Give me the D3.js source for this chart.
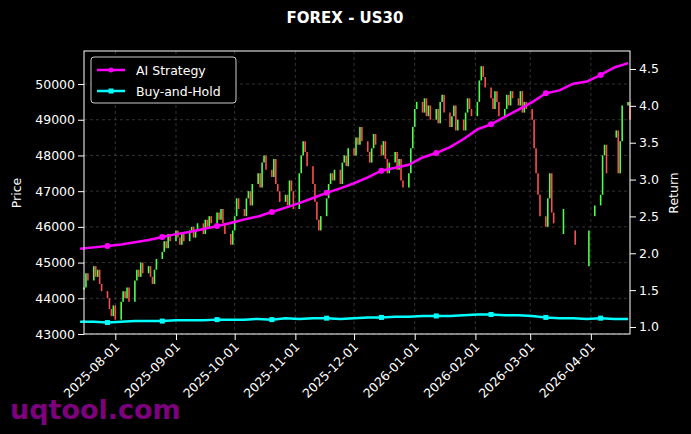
<!DOCTYPE html>
<html><head><meta charset="utf-8">
<script src="https://cdn.jsdelivr.net/npm/d3@7"></script>
<style>body{margin:0;background:#000}svg{display:block;font-family:"DejaVu Sans",sans-serif}</style>
</head><body><svg id="c" width="691" height="434"></svg>
<script>
// daily closes, business days from 2025-07-16 (null = no bar)
var closes = [
 44300,44700,44500,
 44900,44600,44800,44400,44200, 44000,43700,43500,43800,43400,
 43900,44200,44000,44300,43900, 44500,44800,44600,45000,44700,
 44900,44600,44400,44800,45100, 45300,45600,45400,45800,45600,
 45900,45700,45500,45800,45600, 45900,46000,45700,45900,46100,
 45800,46200,46000,46300,46100, 46400,46200,46500,46100,45800,
 45500,45900,46300,46800,46500, 46300,46800,47000,46600,47200,
 47500,47100,47800,48000,47600, 47400,47900,47200,47000,46700,
 46900,46600,47300,47000,46500, 47500,48000,48400,48100,47700,
 47200,46700,46200,45900,46300, 46800,47200,47500,47300,47600,
 47200,47800,48000,47700,48200, 48000,48500,48300,48800,48400,
 48100,47800,48200,48600,48300, 48000,48400,47900,47500,47800,
 48100,47600,47900,47300,47100, 47500,48200,48800,49300,49500,
 49200,49600,49100,49400,49000, 49300,48900,49500,49700,49200,
 48800,49100,49400,48700,49000, 48700,49200,49600,49300,49100,
 49500,50100,50500,50200,49900, 49600,49300,49800,49500,49100,
 49300,49700,49400,49800,49600, 49400,49800,49200,49500,49300,
 49000,48200,47500,46900,46300, 46000,46800,47500,46400,46100,
 null,45800,46500,null,null, 45900,45500,null,45000,null,
 44900,45900,null,46300,46600, 46900,48000,48300,47500,null,
 48500,48700,47500,48400,49400, 49500,49000
];
// weekly returns from 2025-07-14
var aiReturn = [2.06,2.08,2.10,2.12,2.15,2.18,2.22,2.26,2.29,2.33,2.37,2.41,2.46,2.50,2.56,2.62,2.68,2.75,2.82,2.88,2.95,3.03,3.12,3.16,3.20,3.30,3.36,3.44,3.55,3.68,3.75,3.85,3.95,4.05,4.17,4.21,4.30,4.33,4.42,4.52,4.58];
var bhReturn = [1.07,1.07,1.06,1.07,1.08,1.08,1.08,1.09,1.09,1.09,1.10,1.10,1.10,1.11,1.10,1.12,1.11,1.12,1.12,1.11,1.12,1.13,1.13,1.14,1.14,1.15,1.15,1.15,1.16,1.17,1.17,1.16,1.16,1.15,1.13,1.12,1.12,1.11,1.12,1.11,1.11];
var tickDates = ["2025-08-01","2025-09-01","2025-10-01","2025-11-01","2025-12-01","2026-01-01","2026-02-01","2026-03-01","2026-04-01"];

var parse = d3.timeParse("%Y-%m-%d");
var days = d3.timeDay.range(parse("2025-07-16"), parse("2026-05-01")).filter(function(d){return d.getDay()%6!==0;});
var bars = [];
closes.forEach(function(c,i){
  var o = i>0 ? closes[i-1] : c;
  if(c!==null && o!==null) bars.push({date:days[i],o:o,c:c});
});
var weeks = aiReturn.map(function(v,i){return d3.timeDay.offset(parse("2025-07-14"), i*7);});

var svg = d3.select("#c");
var L=84,R=630,T=51,B=334;
var x = d3.scaleTime().domain([parse("2025-07-16"), parse("2026-04-21")]).range([L,R]);
var y = d3.scaleLinear().domain([43000,50925]).range([B,T]);
var y2 = d3.scaleLinear().domain([0.905,4.744]).range([B,T]);

svg.append("text").attr("x",345).attr("y",23).attr("text-anchor","middle").attr("fill","#fff")
  .attr("font-weight","bold").attr("font-size",15).text("FOREX - US30");

svg.append("text").attr("x",10).attr("y",419).attr("fill","#8b008b").attr("font-weight","bold")
  .attr("font-size",27).attr("opacity",0.9).text("uqtool.com");

var g = svg.append("g");
// grid
g.selectAll(".gx").data(tickDates).enter().append("line")
  .attr("x1",function(d){return x(parse(d));}).attr("x2",function(d){return x(parse(d));})
  .attr("y1",T).attr("y2",B).attr("stroke","#555").attr("stroke-dasharray","3,3").attr("stroke-width",0.6);
g.selectAll(".gy").data(d3.range(43000,50001,1000)).enter().append("line")
  .attr("x1",L).attr("x2",R).attr("y1",function(d){return y(d);}).attr("y2",function(d){return y(d);})
  .attr("stroke","#555").attr("stroke-dasharray","3,3").attr("stroke-width",0.6);

// candles
g.selectAll(".bar").data(bars).enter().append("line")
  .attr("x1",function(d){return x(d.date);}).attr("x2",function(d){return x(d.date);})
  .attr("y1",function(d){return y(d.o);})
  .attr("y2",function(d){var h=y(d.c)-y(d.o);return Math.abs(h)<2?y(d.o)+2:y(d.c);})
  .attr("stroke",function(d){return d.c>=d.o?"#4dff4d":"#ff4d4d";}).attr("stroke-width",1.6);

function series(vals,color,shape){
  var line = d3.line().x(function(d,i){return x(weeks[i]);}).y(function(d){return y2(d);});
  g.append("path").datum(vals).attr("d",line).attr("fill","none").attr("stroke",color).attr("stroke-width",2.5);
  vals.forEach(function(v,i){
    if(i%4!==2) return;
    if(shape==="c") g.append("circle").attr("cx",x(weeks[i])).attr("cy",y2(v)).attr("r",3).attr("fill",color);
    else g.append("rect").attr("x",x(weeks[i])-2.5).attr("y",y2(v)-2.5).attr("width",5).attr("height",5).attr("fill",color);
  });
}
series(aiReturn,"#ff00ff","c");
series(bhReturn,"#00ffff","s");

g.append("rect").attr("x",L).attr("y",T).attr("width",R-L).attr("height",B-T).attr("fill","none").attr("stroke","#fff");

var ax = svg.append("g").attr("transform","translate(0,"+B+")")
  .call(d3.axisBottom(x).tickValues(tickDates.map(parse)).tickFormat(d3.timeFormat("%Y-%m-%d")).tickSizeOuter(0));
ax.selectAll("text").attr("transform","rotate(-45)").attr("text-anchor","end").attr("dx","-0.5em").attr("dy","0.3em");
var ay = svg.append("g").attr("transform","translate("+L+",0)")
  .call(d3.axisLeft(y).tickValues(d3.range(43000,50001,1000)).tickFormat(d3.format("d")).tickSizeOuter(0));
var ay2 = svg.append("g").attr("transform","translate("+R+",0)")
  .call(d3.axisRight(y2).tickValues(d3.range(1,4.51,0.5)).tickFormat(d3.format(".1f")).tickSizeOuter(0));
[ax,ay,ay2].forEach(function(a){
  a.select(".domain").remove();
  a.selectAll("line").attr("stroke","#fff");
  a.selectAll("text").attr("fill","#fff").attr("font-size",12.5).attr("font-family","DejaVu Sans");
});

svg.append("text").attr("transform","translate(21,193) rotate(-90)").attr("text-anchor","middle")
  .attr("fill","#fff").attr("font-size",12.5).text("Price");
svg.append("text").attr("transform","translate(678,193) rotate(-90)").attr("text-anchor","middle")
  .attr("fill","#fff").attr("font-size",12.5).text("Return");

// legend
var lg = svg.append("g").attr("transform","translate(91,57)");
lg.append("rect").attr("width",145).attr("height",46).attr("rx",3).attr("fill","#000").attr("stroke","#ccc");
[["AI Strategy","#ff00ff","c"],["Buy-and-Hold","#00ffff","s"]].forEach(function(e,i){
  var yy = 13+i*21;
  lg.append("line").attr("x1",6).attr("x2",34).attr("y1",yy).attr("y2",yy).attr("stroke",e[1]).attr("stroke-width",2.5);
  if(e[2]==="c") lg.append("circle").attr("cx",20).attr("cy",yy).attr("r",2.5).attr("fill",e[1]);
  else lg.append("rect").attr("x",17.5).attr("y",yy-2.5).attr("width",5).attr("height",5).attr("fill",e[1]);
  lg.append("text").attr("x",45).attr("y",yy+4.5).attr("fill","#fff").attr("font-size",12.5).text(e[0]);
});
</script></body></html>
